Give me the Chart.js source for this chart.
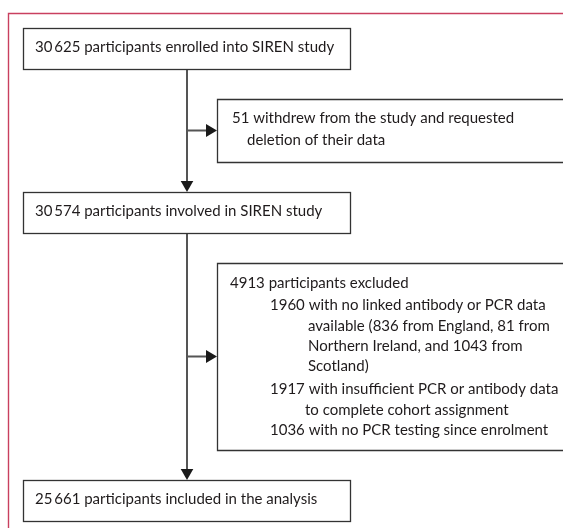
<!DOCTYPE html>
<html>
<head>
<meta charset="utf-8">
<style>
html,body{margin:0;padding:0;background:#fff;}
canvas{display:block;}
</style>
<script src="https://cdn.jsdelivr.net/npm/chart.js@4"></script>
</head>
<body>
<canvas id="c" width="563" height="528"></canvas>
<script>
// ---- data (content only) ----
const stepCounts = [30625, 30574, 25661];
const stepLabels = ["participants enrolled into SIREN study", "participants involved in SIREN study", "participants included in the analysis"];
const exclusionCounts = [51, 4913];
const exclusionLabels = [
  ["withdrew from the study and requested", "deletion of their data"],
  ["participants excluded"]
];
const subReasonCounts = [1960, 1917, 1036];
const subReasonLines = [
  ["with no linked antibody or PCR data", "available (836 from England, 81 from", "Northern Ireland, and 1043 from", "Scotland)"],
  ["with insufficient PCR or antibody data", "to complete cohort assignment"],
  ["with no PCR testing since enrolment"]
];

function fmt(n){ const s = String(n); return s.length > 4 ? s.slice(0, s.length-3) + "\u2009" + s.slice(-3) : s; }

// ---- layout (value space of the hidden axes) ----
const W = 563, H = 528;
const layout = {
  frame: {x: 8.5, y: 13.5},
  mainBox: {x0: 23, x1: 350, ys: [[28,69],[192,233],[480,521]], textX: 35},
  sideBox: {x0: 217, boxes: [[99,162],[263,450]]},
  spineX: 187
};

const FONT = '15px Lato, "Open Sans", sans-serif';

const flowPlugin = {
  id: 'flow',
  afterDraw(chart){
    const ctx = chart.ctx, xs = chart.scales.x, ys = chart.scales.y;
    const X = v => xs.getPixelForValue(v), Y = v => ys.getPixelForValue(v);
    ctx.save();
    // outer frame (open to right / bottom)
    ctx.strokeStyle = '#c9405f'; ctx.lineWidth = 1.4;
    ctx.beginPath();
    ctx.moveTo(X(layout.frame.x), Y(H+5));
    ctx.lineTo(X(layout.frame.x), Y(layout.frame.y));
    ctx.lineTo(X(W+5), Y(layout.frame.y));
    ctx.stroke();

    // spine
    const sx = X(layout.spineX);
    ctx.strokeStyle = '#555'; ctx.lineWidth = 2;
    const mb = layout.mainBox.ys;
    ctx.beginPath();
    ctx.moveTo(sx, Y(mb[0][1])); ctx.lineTo(sx, Y(mb[1][0]) - 8);
    ctx.moveTo(sx, Y(mb[1][1])); ctx.lineTo(sx, Y(mb[2][0]) - 8);
    layout.sideBox.boxes.forEach(b => {
      const my = Y((b[0]+b[1])/2);
      ctx.moveTo(sx, my); ctx.lineTo(X(layout.sideBox.x0) - 8, my);
    });
    ctx.stroke();

    // arrowheads
    ctx.fillStyle = '#1a1a1a';
    function down(tipY){ ctx.beginPath(); ctx.moveTo(sx, tipY); ctx.lineTo(sx-6.3, tipY-11); ctx.lineTo(sx+6.3, tipY-11); ctx.closePath(); ctx.fill(); }
    function right(tipX, y){ ctx.beginPath(); ctx.moveTo(tipX, y); ctx.lineTo(tipX-11, y-6.5); ctx.lineTo(tipX-11, y+6.5); ctx.closePath(); ctx.fill(); }
    down(Y(mb[1][0])); down(Y(mb[2][0]));
    layout.sideBox.boxes.forEach(b => right(X(layout.sideBox.x0), Y((b[0]+b[1])/2)));

    // main boxes
    ctx.strokeStyle = '#333'; ctx.lineWidth = 1.3;
    ctx.font = FONT; ctx.fillStyle = '#1f1b1c'; ctx.textBaseline = 'middle';
    mb.forEach((b, i) => {
      ctx.strokeRect(X(layout.mainBox.x0)+0.5, Y(b[0])+0.5, X(layout.mainBox.x1)-X(layout.mainBox.x0), Y(b[1])-Y(b[0]));
      ctx.fillText(fmt(stepCounts[i]) + ' ' + stepLabels[i], X(layout.mainBox.textX), Y((b[0]+b[1])/2 - 1));
    });

    // side boxes (open to the right)
    layout.sideBox.boxes.forEach(b => {
      const x0 = X(layout.sideBox.x0)+0.5, y0 = Y(b[0])+0.5, y1 = Y(b[1])+0.5;
      ctx.beginPath();
      ctx.moveTo(X(W+5), y0); ctx.lineTo(x0, y0); ctx.lineTo(x0, y1); ctx.lineTo(X(W+5), y1);
      ctx.stroke();
    });

    // side box 1 text
    ctx.fillText(fmt(exclusionCounts[0]) + ' ' + exclusionLabels[0][0], X(232), Y(118));
    ctx.fillText(exclusionLabels[0][1], X(247), Y(140));

    // side box 2 text
    const lines = [];
    lines.push([X(230), fmt(exclusionCounts[1]) + ' ' + exclusionLabels[1][0]]);
    subReasonCounts.forEach((c, i) => {
      subReasonLines[i].forEach((t, j) => {
        if (j === 0) lines.push([X(270), fmt(c) + ' ' + t]);
        else lines.push([X(i === 0 ? 308 : 305), t]);
      });
    });
    const ly = [283, 305, 326, 346, 366, 389, 410, 430];
    lines.forEach((l, k) => ctx.fillText(l[1], l[0], Y(ly[k])));
    ctx.restore();
  }
};

new Chart(document.getElementById('c'), {
  type: 'scatter',
  data: { datasets: [{ data: [], showLine: false }] },
  options: {
    responsive: false,
    devicePixelRatio: 1,
    animation: false,
    layout: { padding: 0 },
    plugins: { legend: { display: false }, tooltip: { enabled: false } },
    scales: {
      x: { type: 'linear', min: 0, max: W, display: false },
      y: { type: 'linear', min: 0, max: H, reverse: true, display: false }
    }
  },
  plugins: [flowPlugin]
});
</script>
</body>
</html>
